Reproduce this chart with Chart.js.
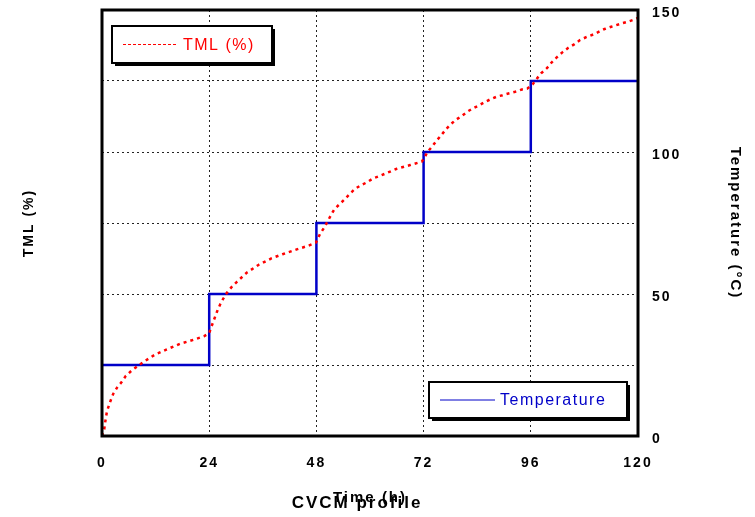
<!DOCTYPE html>
<html lang="en">
<head>
<meta charset="UTF-8">
<title>CVCM profile</title>
<script src="https://cdn.jsdelivr.net/npm/chart.js"></script>
<style>
  body { margin: 0; background: #fff; }
</style>
</head>
<body>
<canvas id="chart" width="755" height="517"></canvas>
<script>
// Temperature steps: each value is held until the next time
const stepTimes = [0, 24, 48, 72, 96, 120];
const stepTemps = [25, 50, 75, 100, 125, 125];

// TML curve (on the 0-150 plot scale)
const tmlTimes = [0, 0.5, 0.7, 1.1, 1.7, 2.5, 3.4, 4.3, 5.3, 6.6, 9.4, 11.8, 14.5, 17.5, 20.1, 22.8,
  24, 24.4, 24.9, 25.4, 25.9, 26.5, 27.2, 28, 29, 30.2, 32.4, 35.1, 38, 40.6, 43.6, 46.2, 47.9,
  48.8, 49.8, 50.4, 51.2, 52, 53.1, 54.3, 55.5, 56.7, 58, 59.4, 60.7, 62.1, 63.6, 66, 69, 71.6,
  72.3, 72.8, 74, 74.9, 76, 77, 78.1, 79.2, 80.7, 82, 83.2, 84.5, 85.7, 86.9, 88.4, 89.7, 91.2,
  92.5, 94, 95.2, 96.4, 97.3, 98.3, 99.6, 100.7, 101.8, 103, 104.4, 105.7, 107, 108.5, 110,
  112.5, 114, 116.4, 117.8, 119.3, 120];
const tmlValues = [0, 2.4, 4.7, 8.6, 11.5, 14.8, 17.1, 18.8, 21.1, 23, 26.2, 28.6, 30.5, 32.5, 33.7, 35.1,
  36.2, 38.1, 40.2, 42.3, 44.4, 46.5, 48.5, 50.5, 52.4, 54.3, 57.5, 60.3, 62.6, 64.1, 65.7, 67, 68.1,
  71.1, 73.5, 75.2, 77.6, 79.8, 81.5, 83.3, 85.3, 87.1, 88.3, 89.4, 90.7, 91.5, 92.5, 94.1, 95.4, 96.6,
  98.3, 99.9, 102.1, 104, 106, 108, 109.8, 111.3, 112.9, 114.4, 115.5, 116.5, 117.6, 118.5, 119.5, 120, 120.7,
  121.2, 122, 122.3, 123.8, 125.7, 127.7, 129.5, 131.6, 133.3, 135, 136.7, 137.9, 139.4, 140.5, 141.4,
  143.3, 144.1, 145.3, 145.9, 146.7, 147.2];

const tempTickLabels = [0, 50, 100, 150];
const chartCaption = 'CVCM profile';

const FONT = 'Arial, "Liberation Sans", sans-serif';

// Thick frame round the plot, the two boxed legends with shadows, and the caption
const frameAndLegends = {
  id: 'frameAndLegends',
  beforeDraw(chart) {
    chart.ctx.letterSpacing = '2px';
  },
  afterDraw(chart) {
    const ctx = chart.ctx, a = chart.chartArea;
    ctx.save();
    ctx.strokeStyle = '#000';
    ctx.lineWidth = 3;
    ctx.strokeRect(a.left, a.top, a.right - a.left, a.bottom - a.top);

    const boxes = [
      { ds: chart.data.datasets[0], x: a.left + 10, y: a.top + 16, w: 160, h: 37, dash: [3, 2] },
      { ds: chart.data.datasets[1], x: a.right - 209, y: a.bottom - 54, w: 198, h: 36, dash: [] }
    ];
    boxes.forEach(b => {
      ctx.fillStyle = '#000';
      ctx.fillRect(b.x + 3, b.y + 3, b.w, b.h);
      ctx.fillStyle = '#fff';
      ctx.fillRect(b.x, b.y, b.w, b.h);
      ctx.lineWidth = 2;
      ctx.setLineDash([]);
      ctx.strokeStyle = '#000';
      ctx.strokeRect(b.x, b.y, b.w, b.h);
      const my = b.y + b.h / 2;
      ctx.strokeStyle = b.ds.borderColor;
      ctx.lineWidth = 1;
      ctx.setLineDash(b.dash);
      ctx.beginPath();
      ctx.moveTo(b.x + 11, my);
      ctx.lineTo(b.x + 66, my);
      ctx.stroke();
      ctx.setLineDash([]);
      ctx.fillStyle = b.ds.borderColor;
      ctx.font = '16px ' + FONT;
      ctx.letterSpacing = '1.5px';
      ctx.textBaseline = 'middle';
      ctx.textAlign = 'left';
      ctx.fillText(b.ds.label, b.x + 71, my + 1);
    });

    // caption sits under the x axis title, overlapping it as in the original
    ctx.fillStyle = '#000';
    ctx.font = 'bold 17px ' + FONT;
    ctx.letterSpacing = '2px';
    ctx.textAlign = 'center';
    ctx.textBaseline = 'middle';
    ctx.fillText(chartCaption, (a.left + a.right) / 2 - 13, a.bottom + 67);
    ctx.restore();
  }
};

// keep the plot top at 10px regardless of tick label size
function fixVertical(width) {
  return s => {
    s.width = width;
    s.paddingTop = 10;
    s.paddingBottom = 0;
  };
}

new Chart(document.getElementById('chart'), {
  type: 'line',
  data: {
    datasets: [
      {
        label: 'TML (%)',
        data: tmlTimes.map((t, i) => ({ x: t, y: tmlValues[i] })),
        yAxisID: 'yL',
        borderColor: '#ff0000',
        borderWidth: 2.5,
        borderDash: [3, 4],
        pointRadius: 0,
        fill: false
      },
      {
        label: 'Temperature',
        data: stepTimes.map((t, i) => ({ x: t, y: stepTemps[i] })),
        yAxisID: 'y',
        borderColor: '#0000c8',
        borderWidth: 2.5,
        stepped: 'before',
        pointRadius: 0,
        fill: false
      }
    ]
  },
  options: {
    responsive: false,
    animation: false,
    layout: { padding: 0 },
    plugins: {
      legend: { display: false },
      tooltip: { enabled: false },
      title: { display: false }
    },
    scales: {
      x: {
        type: 'linear',
        min: 0,
        max: 120,
        afterFit(s) { s.height = 81; s.paddingLeft = 0; s.paddingRight = 0; },
        afterBuildTicks(s) { s.ticks = stepTimes.map(v => ({ value: v })); },
        ticks: {
          color: '#000',
          font: { family: FONT, size: 14, weight: 'bold' },
          padding: 19,
          maxRotation: 0
        },
        grid: { color: '#222', drawTicks: false },
        border: { display: false, dash: [2, 3] },
        title: {
          display: true,
          text: 'Time (h)',
          color: '#000',
          font: { family: FONT, size: 15, weight: 'bold' },
          padding: { top: 0, bottom: 10 }
        }
      },
      yL: {
        position: 'left',
        min: 0,
        max: 150,
        afterFit: fixVertical(102),
        ticks: { display: false },
        grid: { display: false },
        border: { display: false },
        title: {
          display: true,
          text: 'TML (%)',
          color: '#000',
          font: { family: FONT, size: 14, weight: 'bold' },
          padding: { top: 21, bottom: 0 }
        }
      },
      y: {
        position: 'right',
        min: 0,
        max: 150,
        afterFit: fixVertical(117),
        ticks: {
          stepSize: 25,
          color: '#000',
          font: { family: FONT, size: 14, weight: 'bold' },
          padding: 14,
          labelOffset: 3,
          callback: v => tempTickLabels.includes(v) ? String(v) : ''
        },
        grid: { color: '#222', drawTicks: false },
        border: { display: false, dash: [2, 3] },
        title: {
          display: true,
          text: 'Temperature (°C)',
          color: '#000',
          font: { family: FONT, size: 15, weight: 'bold' },
          padding: { top: 11, bottom: 0 }
        }
      }
    }
  },
  plugins: [frameAndLegends]
});
</script>
</body>
</html>
